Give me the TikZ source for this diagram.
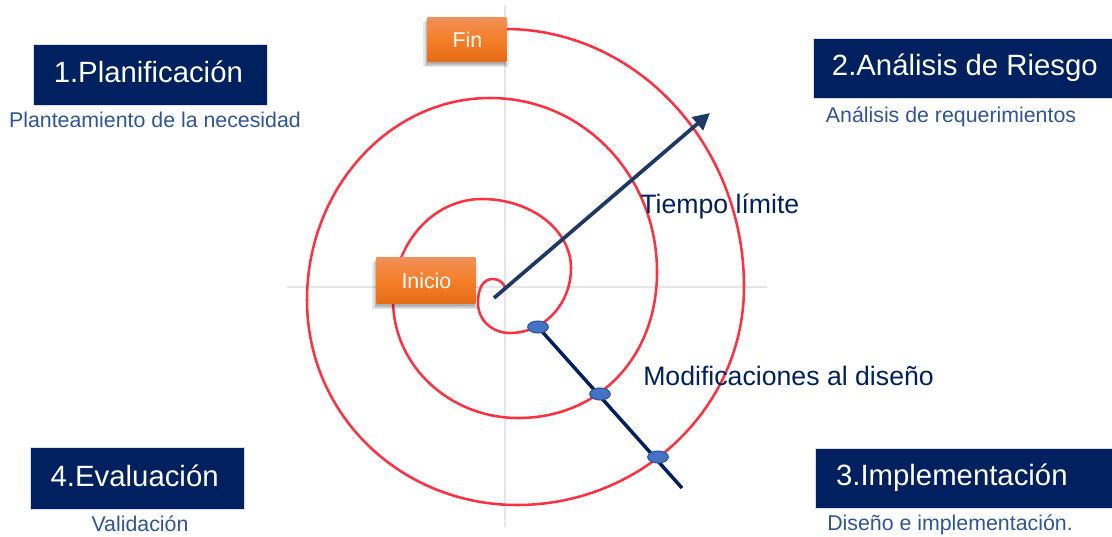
\documentclass[tikz,border=0pt]{standalone}
\usepackage{fontspec}
\setmainfont{Liberation Sans}
\usetikzlibrary{arrows.meta,calc,shapes.geometric}
\definecolor{navybox}{HTML}{002060}
\definecolor{boxedge}{HTML}{D9DEE8}
\definecolor{subblue}{HTML}{2F5597}
\definecolor{spiralred}{HTML}{FF3040}
\definecolor{axisgray}{HTML}{E6E6E6}
\definecolor{arrownavy}{HTML}{1F3864}
\definecolor{dotfill}{HTML}{4472C4}
\definecolor{dotline}{HTML}{2F5597}
\definecolor{orangetop}{HTML}{F0905A}
\definecolor{orangemid}{HTML}{F57F28}
\definecolor{orangebot}{HTML}{E56C17}
\newcommand{\softshadow}[4]{%
  \foreach \d in {0,1.2,2.4,3.6}{
    \fill[black,opacity=0.09] ({#1-\d},{#2+1+\d}) rectangle ({#3+\d-1},{#4+2.5+\d});
  }}
\newcommand{\boxtext}[3]{\raisebox{#2}[0pt][0pt]{\kern#1 #3}}
\tikzset{
  x=0.75pt,y=-0.75pt,
  phasebox/.style={fill=navybox,draw=boxedge,line width=0.5pt,inner sep=0pt,text=white,font=\fontsize{22}{25}\selectfont,anchor=north west},
  subtext/.style={text=subblue,font=\fontsize{16}{19}\selectfont,inner sep=0pt},
  steplabel/.style={text=navybox,font=\fontsize{20}{23}\selectfont,inner sep=0pt},
  milestone/.style={top color=orangetop,bottom color=orangebot,middle color=orangemid,text=white,inner sep=0pt,font=\fontsize{16}{19}\selectfont,anchor=north west},
  spiralpath/.style={draw=spiralred,line width=1.9pt,line cap=round},
  axisline/.style={draw=axisgray,line width=2.1pt},
  dotmark/.style={ellipse,fill=dotfill,draw=dotline,line width=0.8pt,minimum width=15.5pt,minimum height=9pt,inner sep=0pt},
}
\begin{document}
\begin{tikzpicture}
\useasboundingbox (0,0) rectangle (1112,536);
% axes
\coordinate (vt) at (505,5); \coordinate (vb) at (505,527);
\coordinate (hl) at (287,287); \coordinate (hr) at (767,287);
\draw[axisline] (vt) -- (vb);
\draw[axisline] (hl) -- (hr);
% spiral
\coordinate (s0) at (505,29);
\coordinate (s1) at (744,287);
\coordinate (s2) at (517,505);
\coordinate (s3) at (307,300);
\coordinate (s4) at (490,98);
\coordinate (s5) at (657,272);
\coordinate (s6) at (518,418);
\coordinate (s7) at (393,300);
\coordinate (s8) at (482,199);
\coordinate (s9) at (571,268);
\coordinate (s10) at (510,333);
\coordinate (s11) at (478,303);
\coordinate (s12) at (493,279);
\coordinate (s13) at (505,287);
\draw[spiralpath]
  (s0) .. controls (637,29) and (744,145) .. (s1)
  .. controls (744,407) and (642,505) .. (s2)
  .. controls (402,505) and (307,416) .. (s3)
  .. controls (307,189) and (389,98) .. (s4)
  .. controls (584,98) and (657,176) .. (s5)
  .. controls (657,356) and (600,418) .. (s6)
  .. controls (450,418) and (393,366) .. (s7)
  .. controls (393,245) and (432,199) .. (s8)
  .. controls (531,199) and (571,230) .. (s9)
  .. controls (571,304) and (544,333) .. (s10)
  .. controls (492,333) and (478,320) .. (s11)
  .. controls (478,288) and (483,279) .. (s12)
  .. controls (498,279) and (503,282) .. (s13);
% arrow
\coordinate (a0) at (494,298); \coordinate (a1) at (710,113);
\draw[draw=arrownavy,line width=2.8pt,-{Triangle[length=12.5pt,width=12.5pt]}] (a0) -- (a1);
% milestone line
\coordinate (m1) at (682,488);
\coordinate (d0) at (538,327);
\draw[draw=navybox,line width=2.6pt] (d0) -- (m1);
\node[dotmark] (d1) at (d0) {};
\node[dotmark] (d2) at (600,394) {};
\node[dotmark] (d3) at (658,457) {};
% milestones
\softshadow{427}{17}{506}{61}
\softshadow{376}{257}{475}{303}
\node[milestone,minimum width=59.25pt,minimum height=33pt] (fin) at (427,17) {\boxtext{1pt}{-6.4pt}{Fin}};
\node[milestone,minimum width=74.25pt,minimum height=34.5pt] (inicio) at (376,257) {\boxtext{1pt}{-6.4pt}{Inicio}};
% boxes
\node[phasebox,minimum width=175.5pt,minimum height=45.75pt] (p1) at (33,44) {\boxtext{-3pt}{-5.6pt}{1.Planificación}};
\node[phasebox,minimum width=224.25pt,minimum height=45pt] (p2) at (813,38) {\boxtext{3pt}{-5.25pt}{2.Análisis de Riesgo}};
\node[phasebox,minimum width=222.75pt,minimum height=45pt] (p3) at (815,447.5) {\boxtext{-18pt}{-6pt}{3.Implementación}};
\node[phasebox,minimum width=160.5pt,minimum height=46.5pt] (p4) at (30,446.5) {\boxtext{-4pt}{-6.4pt}{4.Evaluación}};
% subtexts
\node[subtext] (t1) at (155,120) {Planteamiento de la necesidad};
\node[subtext] (t2) at (951,116.5) {Análisis de requerimientos};
\node[subtext] (t3) at (950,524.5) {Diseño e implementación.};
\node[subtext] (t4) at (140,524) {Validación};
% labels
\node[steplabel,anchor=west] (l1) at (640,206) {Tiempo límite};
\node[steplabel,anchor=west] (l2) at (643,376) {Modificaciones al diseño};
\end{tikzpicture}
\end{document}
